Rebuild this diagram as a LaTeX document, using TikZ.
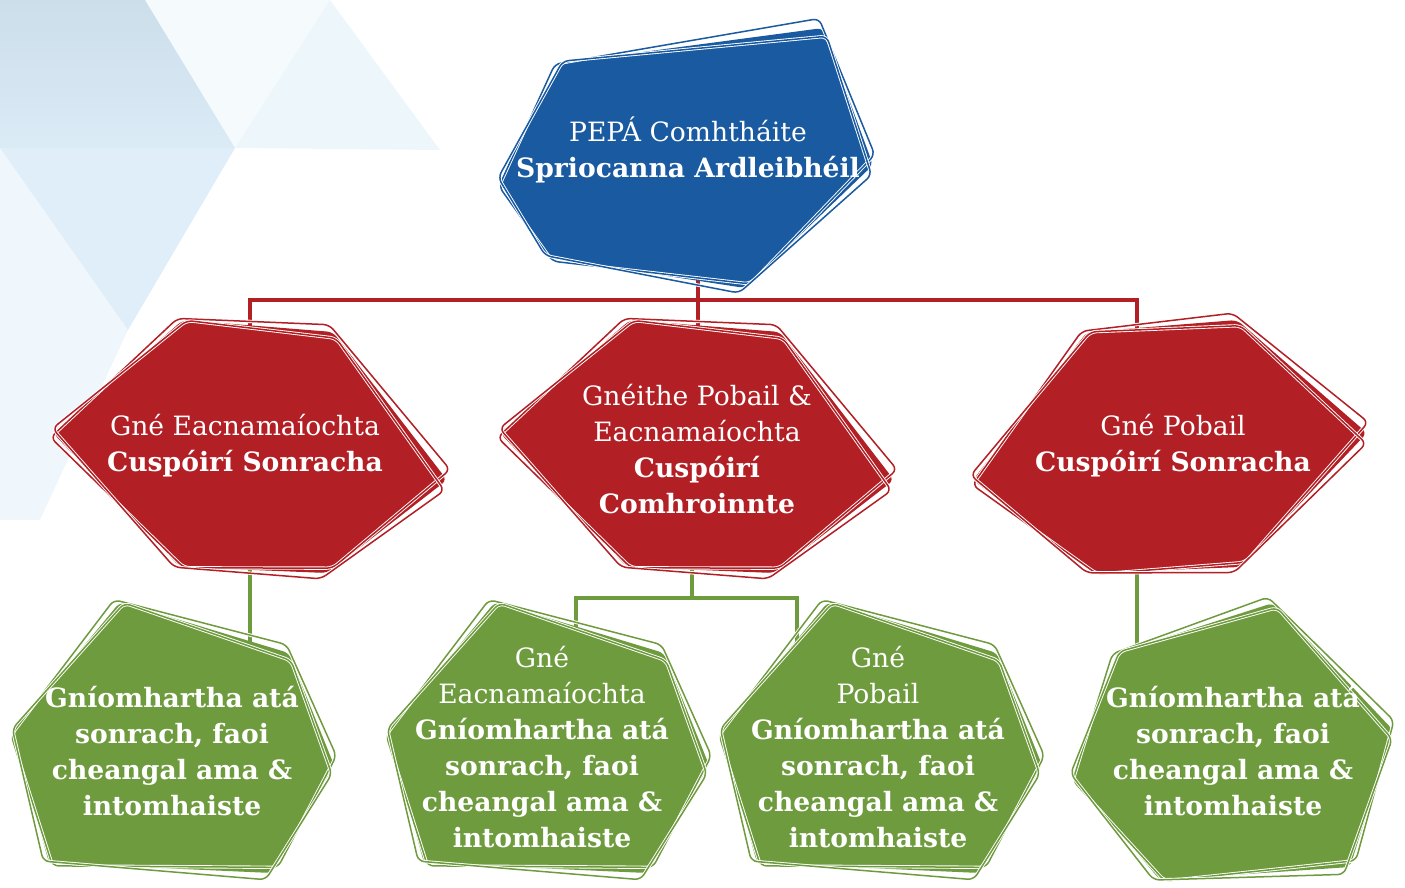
\documentclass[tikz,border=0pt]{standalone}
\usepackage{fontspec}
\setmainfont{DejaVu Serif}
\definecolor{cblue}{HTML}{1A5AA0}
\definecolor{cred}{HTML}{B21F24}
\definecolor{cgreen}{HTML}{6F9B3F}
\definecolor{bgA}{HTML}{C3D8E6}
\definecolor{bgB}{HTML}{D4E8F5}
\definecolor{bgC}{HTML}{E6F2FA}
\begin{document}
\begin{tikzpicture}[x=0.5pt,y=-0.5pt,
  outl/.style={draw=white, double=#1, double distance=0.75pt, line width=0.45pt, rounded corners=3pt},
  shapefill/.style={fill=#1, rounded corners=3pt},
  txt/.style={text=white, align=center, font=\fontsize{13.3}{18}\selectfont, inner sep=0pt},
  redc/.style={draw=cred, line width=2.4pt},
  grc/.style={draw=cgreen, line width=2.2pt}]
\useasboundingbox (0,0) rectangle (1405,888);
% background triangles
\shade[top color=bgA, bottom color=bgB, opacity=0.85] (0,0) -- (145,0) -- (235,148) -- (0,148) -- cycle;
\fill[bgB, opacity=0.75] (0,148) -- (235,148) -- (128,330) -- cycle;
\fill[bgC, opacity=0.7] (235,148) -- (330,0) -- (440,150) -- cycle;
\fill[bgC, opacity=0.6] (0,148) -- (128,330) -- (40,520) -- (0,520) -- cycle;
\fill[bgC, opacity=0.4] (145,0) -- (330,0) -- (235,148) -- cycle;

\def\bluepoly{(-128,-97) -- (135,-132) -- (185,5) -- (57,128) -- (-138,98) -- (-188,22) -- cycle}
\def\redpoly{(-67,-125) -- (83,-113) -- (197,35) -- (77,128) -- (-70,122) -- (-197,-12) -- cycle}
\def\redpolym{(67,-125) -- (197,-12) -- (70,122) -- (-77,128) -- (-197,35) -- (-83,-113) -- cycle}
\def\greenpoly{(-52,-138) -- (117,-87) -- (162,25) -- (100,133) -- (-123,123) -- (-159,-8) -- cycle}
\def\greenpolym{(40,-137) -- (160,-10) -- (117,127) -- (-73,140) -- (-160,37) -- (-116,-87) -- cycle}
\newcommand\blob[4]{%
  \begin{scope}[shift={(#1,#2)}]
    \fill[shapefill=#4] #3;
    \begin{scope}[rotate=2.2, scale=1.01, shift={(0,-3)}] \draw[outl=#4] #3; \end{scope}
    \begin{scope}[rotate=-2.2, shift={(-1,3)}] \draw[outl=#4] #3; \end{scope}
  \end{scope}}

% junction coordinates
\coordinate (jL) at (250,300);
\coordinate (jM) at (698,300);
\coordinate (jR) at (1137,300);
\coordinate (gA) at (576,598);
\coordinate (gM) at (692,598);
\coordinate (gB) at (797,598);
\coordinate (gR) at (1137,598);
\coordinate (gL) at (250,598);

\path (688,150) coordinate (top)
      (250,445) coordinate (r1)
      (697,445) coordinate (r2)
      (1170,445) coordinate (r3)
      (172,740) coordinate (g1)
      (547,740) coordinate (g2)
      (880,740) coordinate (g3)
      (1233,740) coordinate (g4);

% connectors
\draw[redc] (jM |- top) -- (jM);
\draw[redc] (jL |- r1) -- (jL) -- (jR) -- (jR |- r3);
\draw[redc] (jM) -- (jM |- r2);
\draw[grc] (gL |- r1) -- (gL |- g1);
\draw[grc] (gM |- r2) -- (gM);
\draw[grc] (gA |- g2) -- (gA) -- (gB) -- (gB |- g3);
\draw[grc] (gR |- r3) -- (gR |- g4);

% shapes
\blob{688}{160}{\bluepoly}{cblue}
\blob{250}{445}{\redpoly}{cred}
\blob{697}{445}{\redpoly}{cred}
\blob{1170}{445}{\redpolym}{cred}
\blob{172}{740}{\greenpoly}{cgreen}
\blob{547}{740}{\greenpoly}{cgreen}
\blob{880}{740}{\greenpoly}{cgreen}
\blob{1233}{740}{\greenpolym}{cgreen}

% texts
\node[txt] (tTop) at (688,150) {PEPÁ Comhtháite\\\textbf{Spriocanna Ardleibhéil}};
\node[txt] (tR1) at (245,446) {Gné Eacnamaíochta\\\textbf{Cuspóirí Sonracha}};
\node[txt] (tR2) at (697,449) {Gnéithe Pobail \&\\Eacnamaíochta\\\textbf{Cuspóirí}\\\textbf{Comhroinnte}};
\node[txt] (tR3) at (1173,446) {Gné Pobail\\\textbf{Cuspóirí Sonracha}};
\node[txt] (tG1) at (172,751) {\textbf{Gníomhartha atá}\\\textbf{sonrach, faoi}\\\textbf{cheangal ama \&}\\\textbf{intomhaiste}};
\node[txt] (tG2) at (542,747) {Gné\\Eacnamaíochta\\\textbf{Gníomhartha atá}\\\textbf{sonrach, faoi}\\\textbf{cheangal ama \&}\\\textbf{intomhaiste}};
\node[txt] (tG3) at (878,747) {Gné\\Pobail\\\textbf{Gníomhartha atá}\\\textbf{sonrach, faoi}\\\textbf{cheangal ama \&}\\\textbf{intomhaiste}};
\node[txt] (tG4) at (1233,751) {\textbf{Gníomhartha atá}\\\textbf{sonrach, faoi}\\\textbf{cheangal ama \&}\\\textbf{intomhaiste}};
\end{tikzpicture}
\end{document}
